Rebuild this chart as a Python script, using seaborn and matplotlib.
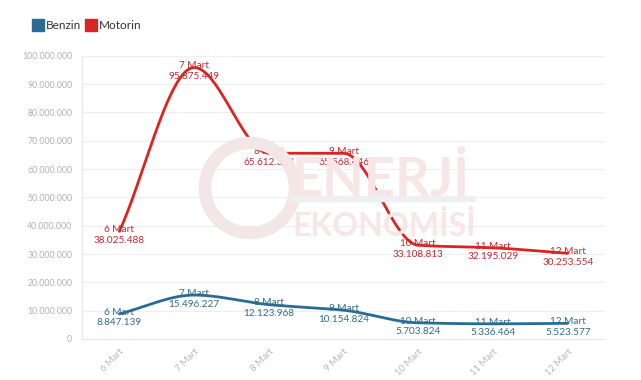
import numpy as np
import pandas as pd
import matplotlib
matplotlib.use("Agg")
import matplotlib.pyplot as plt
from matplotlib.lines import Line2D
from matplotlib.patches import Ellipse, FancyBboxPatch
import seaborn as sns

# data
days = ["6 Mart", "7 Mart", "8 Mart", "9 Mart", "10 Mart", "11 Mart", "12 Mart"]
benzin = [8847139, 15496227, 12123968, 10154824, 5703824, 5336464, 5523577]
motorin = [38025488, 95875449, 65612343, 65568446, 33108813, 32195029, 30253554]
yticks = list(range(0, 100_000_001, 10_000_000))

c_benzin = "#2a6b94"
c_motorin = "#d92424"
t_benzin = "#2f6a8f"
t_motorin = "#c22a2f"


def dotted(v):
    return f"{int(v):,}".replace(",", ".")


def pchip(x, y, n=40):
    # monotone cubic smoothing of the path between points
    x = np.asarray(x, float)
    y = np.asarray(y, float)
    h = np.diff(x)
    d = np.diff(y) / h
    m = np.zeros_like(y)
    for k in range(1, len(y) - 1):
        if d[k - 1] * d[k] > 0:
            w1 = 2 * h[k] + h[k - 1]
            w2 = h[k] + 2 * h[k - 1]
            m[k] = (w1 + w2) / (w1 / d[k - 1] + w2 / d[k])
    m[0] = d[0]
    m[-1] = d[-1]
    xs, ys = [], []
    for k in range(len(x) - 1):
        t = np.linspace(0, 1, n)
        h00 = 2 * t**3 - 3 * t**2 + 1
        h10 = t**3 - 2 * t**2 + t
        h01 = -2 * t**3 + 3 * t**2
        h11 = t**3 - t**2
        xs.append(x[k] + t * h[k])
        ys.append(h00 * y[k] + h10 * h[k] * m[k] + h01 * y[k + 1] + h11 * h[k] * m[k + 1])
    return np.concatenate(xs), np.concatenate(ys)


sns.set_theme(style="white")
plt.rcParams["font.family"] = ["Lato", "DejaVu Sans"]

W, H = 641, 380
fig = plt.figure(figsize=(W / 100, H / 100), dpi=100)
ax = fig.add_axes([0.128, 0.108, 0.816, 0.745])

# faint watermark (logo + text), in figure pixel terms
wm = "#f7e6e6"
fig.patches.append(Ellipse((250 / W, 1 - 188 / H), 90 / W, 90 / H, transform=fig.transFigure,
                           facecolor="none", edgecolor="#f2e6e6", linewidth=9, zorder=0))
fig.text(292 / W, 1 - 196 / H, "ENERJİ", fontsize=39, fontweight="bold", color=wm, zorder=0)
fig.patches.append(FancyBboxPatch((290 / W, 1 - 201 / H), 185 / W, 5 / H, boxstyle="square,pad=0",
                                  transform=fig.transFigure, color="#efefef", zorder=0))
fig.text(292 / W, 1 - 236 / H, "EKONOMİSİ", fontsize=23, fontweight="bold", color=wm, zorder=0)

xpos = np.arange(len(days))
for vals, col, tcol in [(benzin, c_benzin, t_benzin), (motorin, c_motorin, t_motorin)]:
    sx, sy = pchip(xpos, vals)
    df = pd.DataFrame({"x": sx, "y": sy})
    sns.lineplot(data=df, x="x", y="y", ax=ax, color=col, linewidth=2.0,
                 sort=False, estimator=None, zorder=3)
    for i, v in enumerate(vals):
        ax.annotate(f"{days[i]}\n{dotted(v)}", (xpos[i], v), xytext=(0, 4.5),
                    textcoords="offset points", ha="center", va="top",
                    fontsize=7.2, color=tcol, linespacing=1.25, zorder=2)

ax.set_xlim(-0.5, len(days) - 0.5)
ax.set_ylim(0, 100_000_000)
ax.set_yticks(yticks)
ax.set_yticklabels([dotted(v) for v in yticks], fontsize=6.3, color="#b0b0b0")
ax.set_xticks(xpos)
ax.set_xticklabels(days, rotation=45, ha="right", rotation_mode="anchor",
                   fontsize=6.8, color="#b8b8b8")
ax.tick_params(axis="both", length=3, color="#e6e6e6", pad=3)
ax.tick_params(axis="y", pad=4)
ax.set_xlabel("")
ax.set_ylabel("")
ax.grid(axis="y", color="#eeeeee", linewidth=0.8)
ax.set_axisbelow(True)
ax.patch.set_alpha(0)
for s in ["top", "right"]:
    ax.spines[s].set_visible(False)
for s in ["left", "bottom"]:
    ax.spines[s].set_color("#e6e6e6")
    ax.spines[s].set_linewidth(0.8)

handles = [Line2D([], [], marker="s", linestyle="", markersize=9, color=c_benzin),
           Line2D([], [], marker="s", linestyle="", markersize=9, color=c_motorin)]
fig.legend(handles, ["Benzin", "Motorin"], loc="upper left", bbox_to_anchor=(0.035, 0.975),
           ncol=2, frameon=False, fontsize=8.5, handlelength=0.8, handletextpad=0.3,
           columnspacing=0.4, labelcolor="#333333")

fig.savefig("out.png", dpi=100)
